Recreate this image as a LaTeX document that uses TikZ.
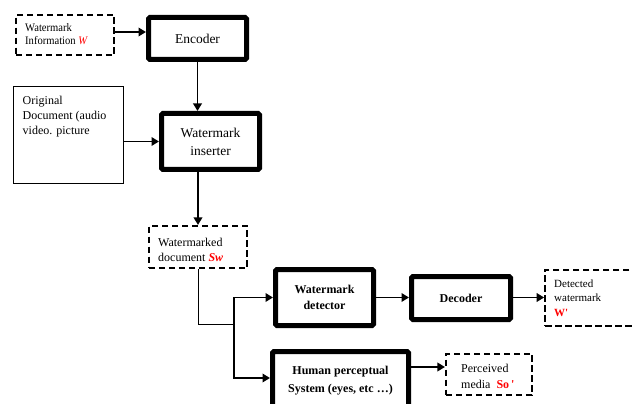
\documentclass[tikz,border=0pt]{standalone}
\usepackage{fontspec}
\setmainfont{Liberation Serif}
\usetikzlibrary{arrows.meta}
\begin{document}
\begin{tikzpicture}[x=1pt,y=-1pt,
  thickbox/.style={draw, line width=5pt, rounded corners=1.5pt, align=center, inner sep=0pt, font=\fontsize{13.5}{18}\selectfont},
  boldbox/.style={thickbox, font=\bfseries\fontsize{12}{16}\selectfont},
  dashbox/.style={draw, line width=1.7pt, dash pattern=on 6.5pt off 3.5pt, inner sep=0pt},
  txt/.style={align=left, inner sep=0pt, anchor=north west},
  arr/.style={-{Triangle[length=7.5pt,width=8.5pt]}, line width=1.8pt},
  plain/.style={line width=0.9pt}]
\useasboundingbox (0,0) rectangle (633,404);
\clip (0,0) rectangle (633,404);
% boxes
\node[dashbox, minimum width=98.4pt, minimum height=40.4pt] (winfo) at (65,35) {};
\node[txt, font=\fontsize{11.5}{13.5}\selectfont\addfontfeatures{FakeStretch=0.92}] (winfotxt) at (25,23.2) {Watermark\\Information \textcolor{red}{\textit{W}}};
\node[thickbox, minimum width=98pt, minimum height=42pt] (encoder) at (197.5,38.5) {Encoder};
\node[draw, line width=0.9pt, minimum width=110pt, minimum height=97pt, inner sep=0pt] (orig) at (68.5,135) {};
\node[txt, font=\fontsize{12}{15}\selectfont] (origtxt) at (22.5,95.8) {Original\\Document (audio\\video. picture};
\node[thickbox, minimum width=98pt, minimum height=56pt] (inserter) at (210.5,141.5) {Watermark\\inserter};
\node[dashbox, minimum width=98.4pt, minimum height=42.4pt] (wdoc) at (198,247) {};
\node[txt, font=\fontsize{12}{15}\selectfont] (wdoctxt) at (158,237.8) {Watermarked\\document \textcolor{red}{\textbf{\textit{Sw}}}};
\node[boldbox, minimum width=98pt, minimum height=56pt] (detector) at (324.5,297.5) {Watermark\\detector};
\node[boldbox, minimum width=99pt, minimum height=43pt] (decoder) at (461,298) {Decoder};
\node[dashbox, minimum width=104pt, minimum height=56.4pt] (detected) at (597,298) {};
\node[txt, font=\fontsize{11}{14.5}\selectfont] (detectedtxt) at (554,279.5) {Detected\\watermark\\\textcolor{red}{\textbf{W\textquotesingle}}};
\node[boldbox, minimum width=136pt, minimum height=58pt, font=\bfseries\fontsize{12}{18}\selectfont] (human) at (340.5,380.5) {Human perceptual\\System (eyes, etc \ldots)};
\node[dashbox, minimum width=86.4pt, minimum height=41.4pt] (perceived) at (489,374.5) {};
\node[txt, font=\fontsize{12}{16}\selectfont] (perceivedtxt) at (461,363.8) {Perceived\\media \ \textcolor{red}{\textbf{So\,\textquotesingle}}};
% connectors
\coordinate (j) at (234,324);
\draw[arr] ([yshift=3pt]winfo.east) -- ([yshift=3pt]winfo.east -| encoder.west);
\draw[arr] (encoder.south) -- (encoder.south |- inserter.north);
\draw[arr] (inserter.west -| orig.east) -- (inserter.west);
\draw[arr] (wdoc.north |- inserter.south) -- (wdoc.north);
\draw[plain] (wdoc.south) |- (j);
\draw[arr] (j) |- (detector.west);
\draw[arr] (j) |- ([yshift=2.5pt]human.west);
\draw[arr] (detector.east) -- (detector.east -| decoder.west);
\draw[arr] (decoder.east |- detector.east) -- (detector.east -| detected.west);
\draw[arr] ([yshift=13.5pt]human.east) -- ([yshift=13.5pt]human.east -| perceived.west);
\end{tikzpicture}
\end{document}
